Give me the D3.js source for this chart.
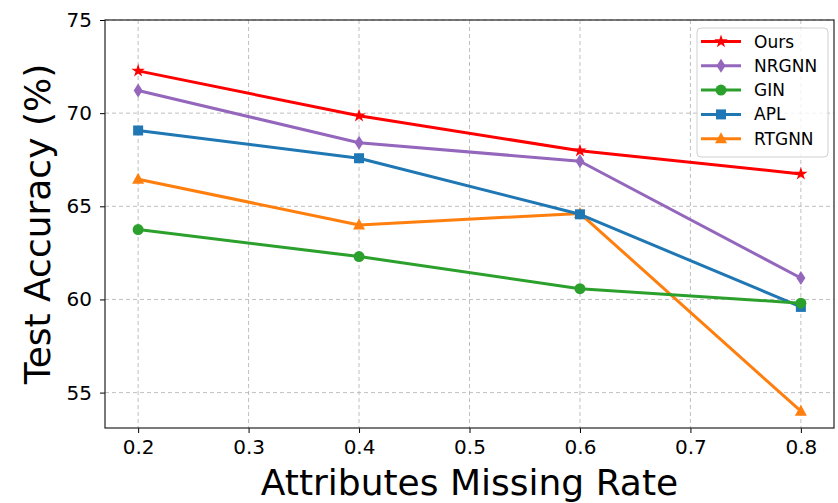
<!DOCTYPE html>
<html>
<head>
<meta charset="utf-8">
<script src="https://cdn.jsdelivr.net/npm/d3@7"></script>
<style>
  body { margin: 0; background: #fff; }
  text { font-family: "DejaVu Sans", sans-serif; fill: #000; }
</style>
</head>
<body>
<div id="root"></div>
<script>
// values
const rates = [0.2, 0.4, 0.6, 0.8];
const ours   = [72.27, 69.86, 67.98, 66.74];
const nrgnn  = [71.22, 68.41, 67.42, 61.15];
const gin    = [63.75, 62.30, 60.58, 59.80];
const apl    = [69.07, 67.58, 64.57, 59.60];
const rtgnn  = [66.45, 64.00, 64.62, 54.00];
const xTicks = [0.2, 0.3, 0.4, 0.5, 0.6, 0.7, 0.8];
const yTicks = [55, 60, 65, 70, 75];

const series = [
  { name: "Ours",  vals: ours,  color: "#ff0000", marker: "star" },
  { name: "NRGNN", vals: nrgnn, color: "#9467bd", marker: "thin_diamond" },
  { name: "GIN",   vals: gin,   color: "#2ca02c", marker: "circle" },
  { name: "APL",   vals: apl,   color: "#1f77b4", marker: "square" },
  { name: "RTGNN", vals: rtgnn, color: "#ff7f0e", marker: "triangle" }
];

const W = 838, H = 503;
const margin = { top: 20, right: 4, bottom: 75, left: 105 };
const width = W - margin.left - margin.right;
const height = H - margin.top - margin.bottom;

const svg = d3.select("#root").append("svg")
  .attr("width", W).attr("height", H);
const g = svg.append("g")
  .attr("transform", "translate(" + margin.left + "," + margin.top + ")");

const x = d3.scaleLinear().domain([0.17, 0.83]).range([0, width]);
const y = d3.scaleLinear().domain([53.1, 75]).range([height, 0]);

// grid
g.append("g").selectAll("line").data(xTicks).enter().append("line")
  .attr("x1", d => x(d)).attr("x2", d => x(d))
  .attr("y1", 0).attr("y2", height)
  .attr("stroke", "#b0b0b0").attr("stroke-opacity", 0.8)
  .attr("stroke-dasharray", "4,3").attr("stroke-width", 1);
g.append("g").selectAll("line").data(yTicks).enter().append("line")
  .attr("y1", d => y(d)).attr("y2", d => y(d))
  .attr("x1", 0).attr("x2", width)
  .attr("stroke", "#b0b0b0").attr("stroke-opacity", 0.8)
  .attr("stroke-dasharray", "4,3").attr("stroke-width", 1);

// axes
const xAxis = g.append("g")
  .attr("transform", "translate(0," + height + ")")
  .call(d3.axisBottom(x).tickValues(xTicks).tickFormat(d3.format(".1f"))
    .tickSizeInner(5).tickSizeOuter(0).tickPadding(7));
const yAxis = g.append("g")
  .call(d3.axisLeft(y).tickValues(yTicks).tickFormat(d3.format("d"))
    .tickSizeInner(5).tickSizeOuter(0).tickPadding(8));
[xAxis, yAxis].forEach(a => {
  a.select(".domain").remove();
  a.selectAll("text").style("font-size", "20px").style("font-family", "DejaVu Sans");
  a.selectAll("line").attr("stroke", "#000");
});

// frame
g.append("rect").attr("width", width).attr("height", height)
  .attr("fill", "none").attr("stroke", "#222").attr("stroke-width", 1.2);

// labels
svg.append("text")
  .attr("x", margin.left + width / 2).attr("y", 495)
  .attr("text-anchor", "middle").style("font-size", "36px")
  .text("Attributes Missing Rate");
svg.append("text")
  .attr("transform", "translate(50," + (margin.top + height / 2) + ") rotate(-90)")
  .attr("text-anchor", "middle").style("font-size", "36px")
  .text("Test Accuracy (%)");

function markerPath(type) {
  if (type === "star") return d3.symbol(d3.symbolStar, 55)();
  if (type === "circle") return d3.symbol(d3.symbolCircle, 95)();
  if (type === "square") return d3.symbol(d3.symbolSquare, 100)();
  if (type === "triangle") return "M0,-6.5L6,4.5L-6,4.5Z";
  // thin diamond
  return "M0,-7L4.5,0L0,7L-4.5,0Z";
}

const line = d3.line().x((d, i) => x(rates[i])).y(d => y(d));

series.slice().reverse().forEach(s => {
  const sg = g.append("g");
  sg.append("path").datum(s.vals)
    .attr("d", line).attr("fill", "none")
    .attr("stroke", s.color).attr("stroke-width", 3)
    .attr("stroke-linejoin", "round");
  sg.selectAll("path.m").data(s.vals).enter().append("path")
    .attr("class", "m")
    .attr("transform", (d, i) => "translate(" + x(rates[i]) + "," + y(d) + ")")
    .attr("d", markerPath(s.marker))
    .attr("fill", s.color);
});

// legend
const leg = svg.append("g");
leg.append("rect")
  .attr("x", 697).attr("y", 28).attr("width", 131).attr("height", 129)
  .attr("rx", 4).attr("fill", "#fff").attr("fill-opacity", 0.8)
  .attr("stroke", "#d0d0d0").attr("stroke-width", 1);
series.forEach((s, i) => {
  const ly = 41.5 + i * 24.3;
  const row = leg.append("g").attr("transform", "translate(0," + ly + ")");
  row.append("line").attr("x1", 701).attr("x2", 741)
    .attr("stroke", s.color).attr("stroke-width", 3);
  row.append("path").attr("transform", "translate(721,0)")
    .attr("d", markerPath(s.marker)).attr("fill", s.color);
  row.append("text").attr("x", 754).attr("y", 6)
    .style("font-size", "17px").text(s.name);
});
</script>
</body>
</html>
